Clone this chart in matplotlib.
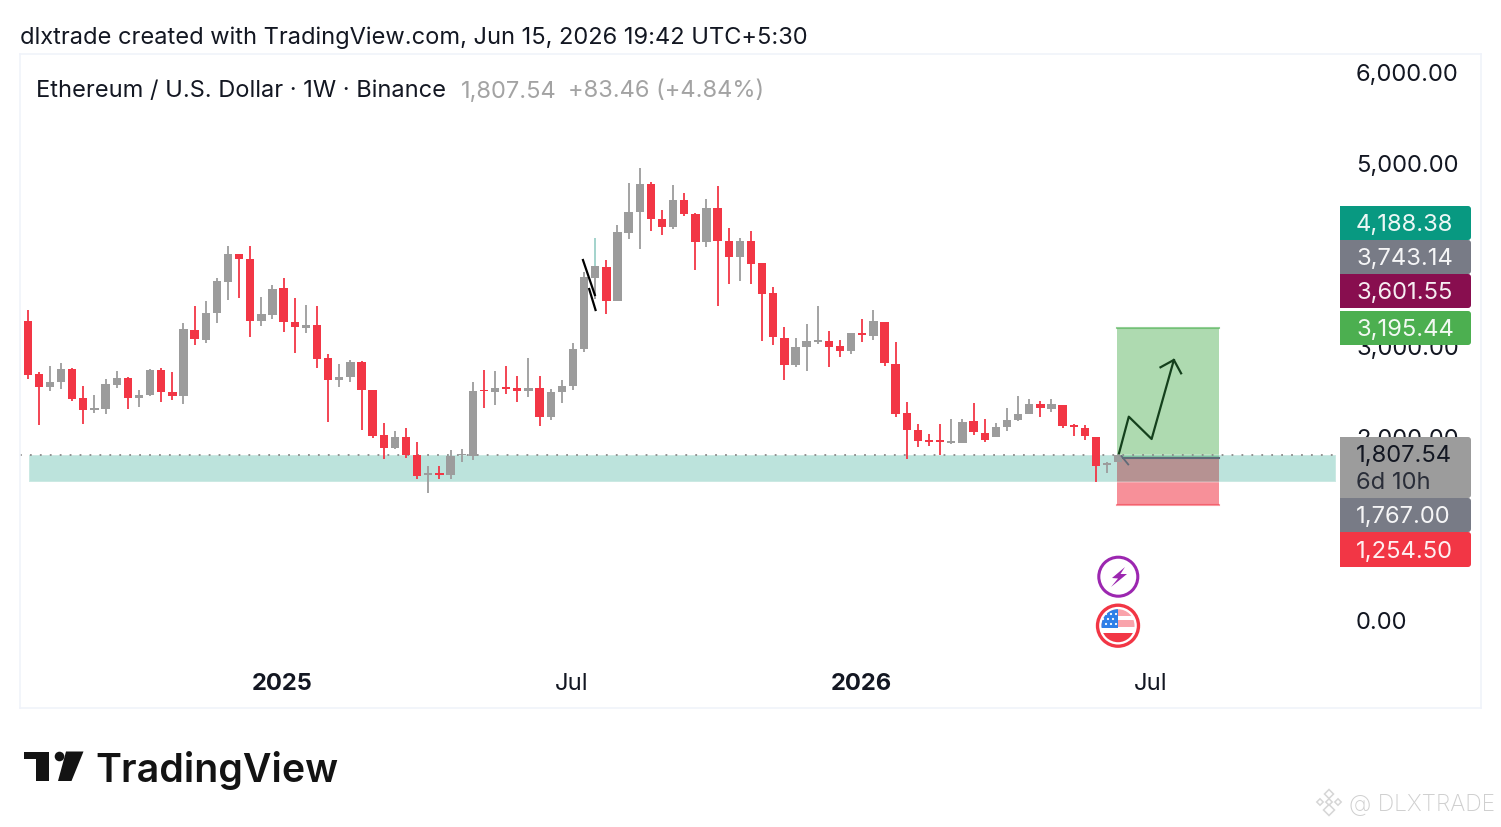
import matplotlib
matplotlib.use('Agg')
import matplotlib.pyplot as plt
from matplotlib.patches import Circle, FancyBboxPatch, Polygon, Rectangle
import numpy as np

plt.rcParams['font.family'] = ['Inter', 'DejaVu Sans']

# weekly candles: high, body top, body bottom, low
highs = [3388, 2710, 2776, 2808, 2754, 2553, 2455, 2630, 2721, 2652, 2513, 2746, 2757, 2714, 3242, 3431, 3490, 3734, 4083, 3996,
         4091, 3533, 3661, 3737, 3515, 3439, 3431, 2910, 2794, 2841, 2827, 2517, 2149, 2065, 2098, 1945, 1683, 1686, 1858, 1869,
         2601, 2728, 2721, 2779, 2670, 2867, 2670, 2524, 2626, 3027, 3807, 4175, 3930, 4313, 4779, 4936, 4783, 4481, 4750, 4663,
         4444, 4604, 4743, 4280, 4171, 4247, 3905, 3643, 3206, 3082, 3232, 3432, 3163, 3061, 3141, 3294, 3388, 3261, 3035, 2387,
         2139, 2030, 2139, 2194, 2197, 2372, 2194, 2150, 2317, 2452, 2412, 2394, 2412, 2354, 2139, 2132, 2004, 1731, 1818]
tops = [3264, 2685, 2604, 2739, 2739, 2422, 2317, 2579, 2648, 2648, 2459, 2736, 2736, 2495, 3176, 3169, 3351, 3701, 3996, 3996,
        3945, 3344, 3617, 3624, 3256, 3220, 3220, 2859, 2652, 2816, 2816, 2510, 2018, 2003, 1996, 1799, 1592, 1599, 1788, 1807,
        2502, 2510, 2539, 2546, 2532, 2539, 2539, 2488, 2561, 2958, 3745, 3865, 3858, 4236, 4462, 4765, 4765, 4379, 4590, 4590,
        4433, 4502, 4502, 4142, 4142, 4142, 3898, 3570, 3082, 2984, 3053, 3061, 3053, 2995, 3137, 3133, 3272, 3257, 2798, 2263,
        2081, 1971, 1957, 1946, 2164, 2175, 2044, 2110, 2190, 2255, 2357, 2365, 2365, 2350, 2124, 2099, 2004, 1720, 1807]
bottoms = [2674, 2546, 2546, 2604, 2415, 2291, 2295, 2306, 2572, 2430, 2430, 2455, 2495, 2444, 2444, 3067, 3060, 3351, 3697, 3945,
           3267, 3267, 3337, 3256, 3198, 3195, 2856, 2619, 2619, 2652, 2510, 2007, 1879, 1879, 1803, 1573, 1584, 1584, 1581, 1799,
           1796, 2499, 2488, 2528, 2506, 2502, 2218, 2218, 2488, 2561, 2958, 3741, 3490, 3490, 4233, 4462, 4379, 4291, 4291, 4437,
           4131, 4131, 4142, 3971, 3967, 3894, 3566, 3093, 2791, 2791, 2980, 3042, 2988, 2937, 2937, 3115, 3104, 2809, 2252, 2081,
           1960, 1949, 1946, 1931, 1931, 2055, 1971, 1997, 2110, 2183, 2255, 2314, 2310, 2121, 2110, 2008, 1687, 1691, 1724]
lows = [2630, 2131, 2506, 2528, 2397, 2145, 2266, 2255, 2535, 2306, 2328, 2444, 2386, 2408, 2357, 3009, 3023, 3249, 3493, 3515,
        3089, 3213, 3293, 3151, 2921, 3140, 2754, 2160, 2546, 2604, 2076, 1985, 1756, 1872, 1770, 1537, 1384, 1537, 1537, 1730,
        1752, 2320, 2346, 2466, 2386, 2437, 2116, 2189, 2371, 2510, 2932, 3512, 3348, 3490, 4160, 4051, 4247, 4204, 4269, 4419,
        3821, 4080, 3435, 3675, 3705, 3675, 3052, 3009, 2620, 2762, 2718, 3020, 2769, 2878, 2908, 3042, 3061, 2776, 2215, 1756,
        1895, 1906, 1800, 1924, 1931, 2022, 1942, 1997, 2070, 2180, 2255, 2219, 2270, 2095, 2008, 1964, 1509, 1611, 1724]
# R = down week, G = up week (drawn grey in the chart), ten weeks per piece
directions = ('RRGGRRGGGR' 'GGRRGRGGGR'
              'RGGRRGRRGG' 'RRRGRRGRGG'
              'GRGRRGRGGG' 'GGRGGGRRGR'
              'RGRRGRRRRG' 'GGRRGRGRRR'
              'RRRGGRRGGG' 'GRGRRRRGG')

last_price = 1807.54
zone_top = 1803
zone_bottom = 1508
position_start = 97.9
position_end = 107.1
target_price = 3195.44
entry_price = 1767.00
stop_price = 1254.50
path_x = [98.07, 98.95, 101.0, 103.0]
path_y = [1822, 2222, 1978, 2842]
head_x = [101.8, 103.0, 103.65]
head_y = [2762, 2842, 2696]
y_ticks = [0, 1000, 2000, 3000, 4000, 5000, 6000]
x_tick_pos = [22.9, 48.9, 74.96, 100.9]
x_tick_labels = ['2025', 'Jul', '2026', 'Jul']

tag_texts = ['4,188.38', '3,743.14', '3,601.55', '3,195.44', '1,767.00', '1,254.50']
tag_colors = ['#089981', '#787B86', '#880E4F', '#4CAF50', '#787B86', '#F23645']
tag_tops = [207, 241, 275, 312, 499, 533]

RED = '#F23645'
GREY = '#9C9C9C'
FS = 17.1

fig = plt.figure(figsize=(15.01, 8.28), dpi=100, facecolor='white')
W, H = 1501, 828

# price pane: 20..1481 px across, 54..708 px down
ax = fig.add_axes([20 / W, 1 - 709 / H, 1461 / W, 654 / H])
ax.set_xlim(-0.69, 130.6)
ax.set_ylim(-962, 6186)
ax.set_axisbelow(True)
for s in ax.spines.values():
    s.set_color('#F0F3FA')
    s.set_linewidth(1.2)

idx = np.arange(len(highs))
colors = [RED if d == 'R' else GREY for d in directions]
heights = np.maximum(np.array(tops) - np.array(bottoms), 20)

# position tool, zone goes on top of it
ax.add_patch(Rectangle((position_start, entry_price), position_end - position_start, target_price - entry_price,
                       fc='#4CAF50', ec='none', alpha=0.45, zorder=1))
ax.add_patch(Rectangle((position_start, stop_price), position_end - position_start, entry_price - stop_price,
                       fc=RED, ec='none', alpha=0.55, zorder=1))
ax.plot([position_start, position_end], [target_price, target_price], color='#4CAF50', alpha=0.6, lw=1.5, zorder=1.1)
ax.plot([position_start, position_end], [stop_price, stop_price], color=RED, alpha=0.5, lw=1.5, zorder=1.1)
ax.add_patch(Rectangle((0.1, zone_bottom), position_end + 10.4, zone_top - zone_bottom,
                       fc='#089981', ec='white', lw=1.2, alpha=0.27, zorder=1.2))
ax.plot([position_start, position_end], [entry_price, entry_price], color='#5F6B78', lw=1.5, zorder=1.3)
ax.plot([-0.69, 118], [last_price, last_price], color='#8A8A8A', lw=1.3, ls=(0, (1, 4.5)), zorder=1.4)

ax.vlines(idx, lows, highs, colors=colors, lw=1.3, zorder=2)
ax.bar(idx, heights, bottom=bottoms, width=0.75, color=colors, zorder=2.1)
# the high wick of one week shows pale teal
ax.vlines(51, tops[51], highs[51], colors='#A6DAD2', lw=1.3, zorder=2.2)

# drawings on the chart
ax.plot([49.9, 50.97], [3934, 3552], color='black', lw=1.6, zorder=3)
ax.plot([50.46, 51.03], [3617, 3388], color='black', lw=1.6, zorder=3)
ax.plot(path_x, path_y, color='#14401C', lw=1.6, zorder=3)
ax.plot(head_x, head_y, color='#14401C', lw=1.6, zorder=3)
ax.plot([98.3, 98.9], [1790, 1700], color='#5F6B78', lw=1.3, zorder=3)

ax.set_yticks(y_ticks)
ax.set_yticklabels([f'{v:,.2f}' for v in y_ticks], fontsize=FS, color='#131722', ha='left', va='center_baseline')
ax.yaxis.tick_right()
ax.tick_params(axis='y', length=0, pad=-90)
ax.set_xticks(x_tick_pos)
ax.set_xticklabels(x_tick_labels, fontsize=FS, color='#131722', va='center')
ax.tick_params(axis='x', length=0, pad=-18)
for lab, txt in zip(ax.get_xticklabels(), x_tick_labels):
    if txt.startswith('20'):
        lab.set_fontweight('bold')

# everything else is laid out in pixels on a full figure overlay
ov = fig.add_axes([0, 0, 1, 1])
ov.set_xlim(0, W)
ov.set_ylim(H, 0)
ov.axis('off')
ov.patch.set_alpha(0)


def tag(top, height, color):
    ov.add_patch(FancyBboxPatch((1343, top + 3), 125, height - 6, boxstyle='round,pad=3,rounding_size=3', fc=color, ec='none'))
    ov.add_patch(Rectangle((1340, top), 8, height, fc=color, ec='none'))


for txt, col, top in zip(tag_texts, tag_colors, tag_tops):
    h = 34 if top != 533 else 35
    tag(top, h, col)
    ov.text(1356, top + h / 2 - 1, txt, fontsize=FS, color='white', alpha=0.93, va='center_baseline')
tag(438, 61, GREY)
ov.text(1356, 454, f'{last_price:,.2f}', fontsize=FS, color='#131722', va='center_baseline')
ov.text(1356, 481, '6d 10h', fontsize=FS, color='#2A2E39', va='center_baseline')

ov.text(20, 35, 'dlxtrade created with TradingView.com, Jun 15, 2026 19:42 UTC+5:30', fontsize=17, color='#131722', va='center_baseline')
ov.text(36, 89, 'Ethereum / U.S. Dollar · 1W · Binance', fontsize=17, color='#131722', va='center_baseline')
ov.text(461, 89, '1,807.54', fontsize=17, color='#A3A3A3', va='center_baseline')
ov.text(568, 89, '+83.46 (+4.84%)', fontsize=17, color='#A3A3A3', va='center_baseline')

# event icons
ov.add_patch(Circle((1118.3, 577.7), 19.5, fc='white', ec='#9C27B0', lw=2.2, zorder=4))
ov.add_patch(Polygon([(1125, 568), (1112, 579), (1118, 579.5), (1111, 588), (1127, 575), (1120.5, 575)], fc='#9C27B0', ec='none', zorder=5))
ov.add_patch(Circle((1118, 626.7), 20.5, fc='white', ec=RED, lw=2.4, zorder=4))
flag = Circle((1118, 626.7), 16.5, transform=ov.transData)
for y0, h, c in [(610, 7, '#F9A3AB'), (617, 3.5, 'white'), (620.5, 7, '#F9A3AB'), (627.5, 6, 'white'), (633.5, 11, RED)]:
    ov.add_patch(Rectangle((1100, y0), 36, h, fc=c, ec='none', zorder=5, clip_path=flag))
ov.add_patch(Rectangle((1100, 610), 18, 19, fc='#2E7FE8', ec='none', zorder=5.1, clip_path=flag))
for sx, sy in [(1106, 615), (1111, 615), (1116, 615), (1103, 620), (1108, 620), (1113, 620), (1106, 625), (1111, 625), (1116, 625)]:
    ov.add_patch(Circle((sx, sy), 1.1, fc='white', ec='none', zorder=5.2))

# TradingView logo
logo = '#131313'
ov.add_patch(Polygon([(24, 752.5), (49, 752.5), (49, 782), (36, 782), (36, 760), (24, 760)], fc=logo, ec='none'))
ov.add_patch(Circle((59.5, 757.5), 4.8, fc=logo, ec='none'))
ov.add_patch(Polygon([(66, 752.5), (83.5, 752.5), (71.5, 782), (58, 782)], fc=logo, ec='none'))
ov.text(95, 782, 'TradingView', fontsize=28.3, fontweight='semibold', color=logo, va='baseline')

# watermark
for cx, cy, r in [(1329, 795, 4.5), (1320, 803, 3.2), (1338, 803, 3.2), (1329, 803, 3.2), (1329, 811, 5.5)]:
    ov.add_patch(Polygon([(cx - r, cy), (cx, cy - r), (cx + r, cy), (cx, cy + r)], fc='none', ec='#D6D6D6', lw=1.1))
ov.text(1349, 803, '@ DLXTRADE', fontsize=16.5, fontweight='light', color='#CFCFCF', va='center_baseline')

fig.savefig('out.png', dpi=100)
